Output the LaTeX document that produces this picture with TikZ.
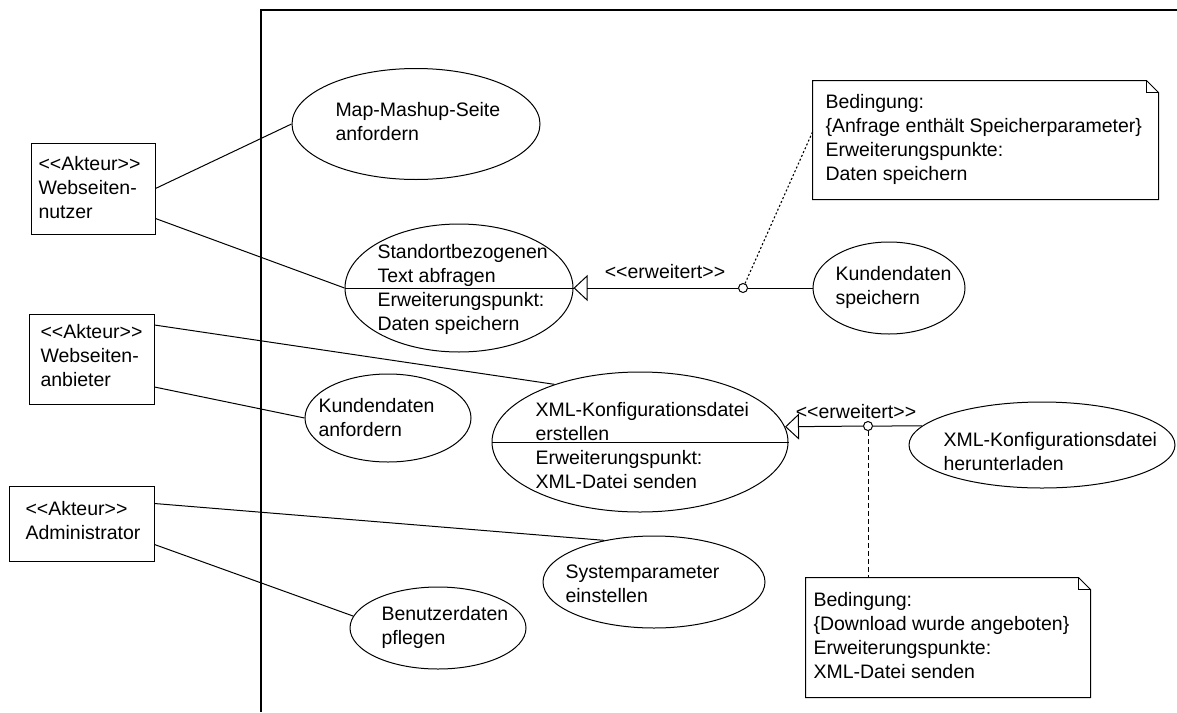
\documentclass[tikz,border=0pt]{standalone}
\usepackage{fontspec}
\setmainfont{Liberation Sans}
\usetikzlibrary{shapes.geometric,arrows.meta,calc}

\begin{document}
\begin{tikzpicture}[x=1pt,y=-1pt,line width=1pt,
  every node/.style={font=\fontsize{19.5}{24}\selectfont},
  usecase/.style={draw,ellipse,inner sep=0pt},
  actorbox/.style={draw,rectangle,inner sep=0pt},
  notebox/.style={rectangle,inner sep=0pt},
  txt/.style={align=left,anchor=west,inner sep=0pt},
  extend/.style={-{Triangle[open,length=14pt,width=26pt]}},
  joint/.style={draw,circle,fill=white,minimum size=9pt,inner sep=0pt},
  dotline/.style={line width=1.1pt,dash pattern=on 2pt off 2.2pt},
  dashline/.style={dash pattern=on 5pt off 3pt}]

\useasboundingbox[fill=white] (0,0) rectangle (1177,712);

% system boundary
\draw[line width=1.3pt] (1177,10) -- (261,10) -- (261,712);

% actors
\node[actorbox,minimum width=124pt,minimum height=91pt] (nutzer) at (93,188.5) {};
\node[txt] (nutzerT) at (38,188) {<{}<Akteur>{}>\\Webseiten-\\nutzer};
\node[actorbox,minimum width=125pt,minimum height=90pt] (anb) at (91.5,359) {};
\node[txt] (anbT) at (40,356) {<{}<Akteur>{}>\\Webseiten-\\anbieter};
\node[actorbox,minimum width=145pt,minimum height=75pt] (admin) at (81.5,523.5) {};
\node[txt] (adminT) at (25,521) {<{}<Akteur>{}>\\Administrator};

% use cases
\node[usecase,minimum width=248pt,minimum height=111pt] (map) at (416,124) {};
\node[txt] (mapT) at (335,122) {Map-Mashup-Seite\\anfordern};

\node[usecase,minimum width=228pt,minimum height=128pt] (std) at (459,288) {};
\draw (std.west) -- (std.east);
\node[txt] (stdT) at (377,289) {Standortbezogenen\\Text abfragen\\Erweiterungspunkt:\\Daten speichern};

\node[usecase,minimum width=152pt,minimum height=92pt] (ks) at (889,288) {};
\node[txt] (ksT) at (835,287) {Kundendaten\\speichern};

\node[usecase,minimum width=166pt,minimum height=88pt] (kda) at (388,418) {};
\node[txt] (kdaT) at (318,418) {Kundendaten\\anfordern};

\node[usecase,minimum width=296pt,minimum height=140pt] (xml) at (640,442) {};
\draw (xml.west) -- (xml.east);
\node[txt] (xmlT) at (535,446) {XML-Konfigurationsdatei\\erstellen\\Erweiterungspunkt:\\XML-Datei senden};

\node[usecase,minimum width=266pt,minimum height=86pt] (hl) at (1042,445) {};
\node[txt] (hlT) at (943,452) {XML-Konfigurationsdatei\\herunterladen};

\node[usecase,minimum width=222pt,minimum height=92pt] (sys) at (654,582) {};
\node[txt] (sysT) at (565,584) {Systemparameter\\einstellen};

\node[usecase,minimum width=176pt,minimum height=82pt] (ben) at (438,628) {};
\node[txt] (benT) at (381,627) {Benutzerdaten\\pflegen};

% notes
\node[notebox,minimum width=345pt,minimum height=118pt] (note1) at (985.5,140) {};
\draw (note1.north west) -- ([xshift=-12pt]note1.north east) -- ([yshift=-12pt]note1.north east)
      -- (note1.south east) -- (note1.south west) -- cycle;
\draw ([xshift=-12pt]note1.north east) |- ([yshift=-12pt]note1.north east);
\node[txt] (note1T) at (825,139) {Bedingung:\\\{Anfrage enthält Speicherparameter\}\\Erweiterungspunkte:\\Daten speichern};

\node[notebox,minimum width=284pt,minimum height=119pt] (note2) at (948,637.5) {};
\draw (note2.north west) -- ([xshift=-12pt]note2.north east) -- ([yshift=-12pt]note2.north east)
      -- (note2.south east) -- (note2.south west) -- cycle;
\draw ([xshift=-12pt]note2.north east) |- ([yshift=-12pt]note2.north east);
\node[txt] (note2T) at (813,636) {Bedingung:\\\{Download wurde angeboten\}\\Erweiterungspunkte:\\XML-Datei senden};

% associations
\draw (nutzer.east) -- (map.west);
\draw ([yshift=-30pt]nutzer.east) -- (std.west);
\draw ([yshift=34pt]anb.east) -- (xml.146);
\draw ([yshift=-28pt]anb.east) -- (kda.west);
\draw ([yshift=20pt]admin.east) -- (sys.140);
\draw ([yshift=-21pt]admin.east) -- (ben.172);

% extend relations
\node[joint] (c1) at (743,288) {};
\draw[extend] (c1) -- (std.east);
\draw (c1) -- (ks.west);
\draw[dotline] (c1) -- ([yshift=8pt]note1.west);
\node (e1) at (665,272) {<{}<erweitert>{}>};

\node[joint] (c2) at (868,426) {};
\draw[extend] (c2) -- (xml.6.3);
\draw (c2) -- (hl.171);
\draw[dashline] (c2) -- ([xshift=-80pt]note2.north);
\node (e2) at (856,412) {<{}<erweitert>{}>};
\end{tikzpicture}
\end{document}
